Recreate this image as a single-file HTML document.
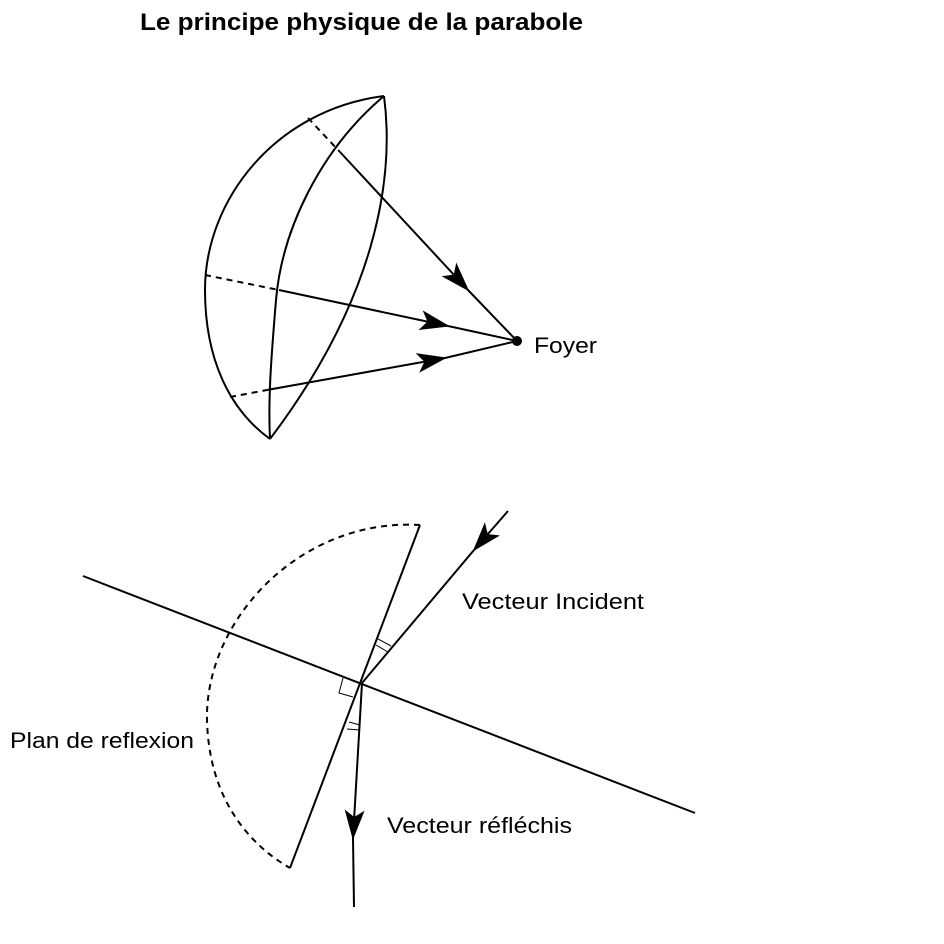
<!DOCTYPE html>
<html><head><meta charset="utf-8"><style>
html,body{margin:0;padding:0;background:#fff;}
svg{display:block;}
text{font-family:"Liberation Sans",sans-serif;fill:#000;}
</style></head><body>
<svg width="944" height="944" viewBox="0 0 944 944" xmlns="http://www.w3.org/2000/svg">
<defs>
<marker id="ar" viewBox="0 0 30 20" refX="28" refY="10" markerWidth="30" markerHeight="20" markerUnits="userSpaceOnUse" orient="auto">
<path d="M0,0 L30,10 L0,20 L7,10 Z" fill="#000"/>
</marker>
</defs>
<text x="140" y="30" font-size="24" font-weight="bold" textLength="443" lengthAdjust="spacingAndGlyphs">Le principe physique de la parabole</text>
<g fill="none" stroke="#000" stroke-width="2">
<path d="M384,96 C275,110 205,200 205,290 C205,360 230,410 270,439"/>
<path d="M384,96 C320,150 282,230 276,300 C271,360 268,400 270,439"/>
<path d="M384,96 C395,180 375,300 270,439"/>
<path d="M308,118 L340,152" stroke-dasharray="6,5"/>
<path d="M205,275 L279,290" stroke-dasharray="6,5"/>
<path d="M230,397 L267,390" stroke-dasharray="6,5"/>
<path d="M340,152 L468,290" marker-end="url(#ar)"/>
<path d="M468,290 L517,341"/>
<path d="M279,290 L448,326" marker-end="url(#ar)"/>
<path d="M448,326 L517,341"/>
<path d="M267,390 L445,358" marker-end="url(#ar)"/>
<path d="M445,358 L517,341"/>
<path d="M83,576 L695,813"/>
<path d="M420,525 L290,868"/>
<path d="M420,525 C300,518 205,620 207,720 C209,800 250,845 290,868" stroke-dasharray="6,5"/>
<path d="M508,511 L474,550" marker-end="url(#ar)"/>
<path d="M474,550 L362,683"/>
<path d="M362,683 L353,838" marker-end="url(#ar)"/>
<path d="M353,838 L354,907"/>
</g>
<g fill="none" stroke="#000" stroke-width="1">
<path d="M343,678 L339,693 L353,697"/>
<path d="M378,639 L391,646 M376,645 L388,652"/>
<path d="M349,722 L360,725 M347,729 L360,730"/>
</g>
<circle cx="517" cy="341" r="5" fill="#000"/>
<text x="534" y="353" font-size="22" textLength="63" lengthAdjust="spacingAndGlyphs">Foyer</text>
<text x="462" y="609" font-size="22" textLength="182" lengthAdjust="spacingAndGlyphs">Vecteur Incident</text>
<text x="10" y="748" font-size="22" textLength="184" lengthAdjust="spacingAndGlyphs">Plan de reflexion</text>
<text x="387" y="833" font-size="22" textLength="185" lengthAdjust="spacingAndGlyphs">Vecteur réfléchis</text>
</svg>
</body></html>
